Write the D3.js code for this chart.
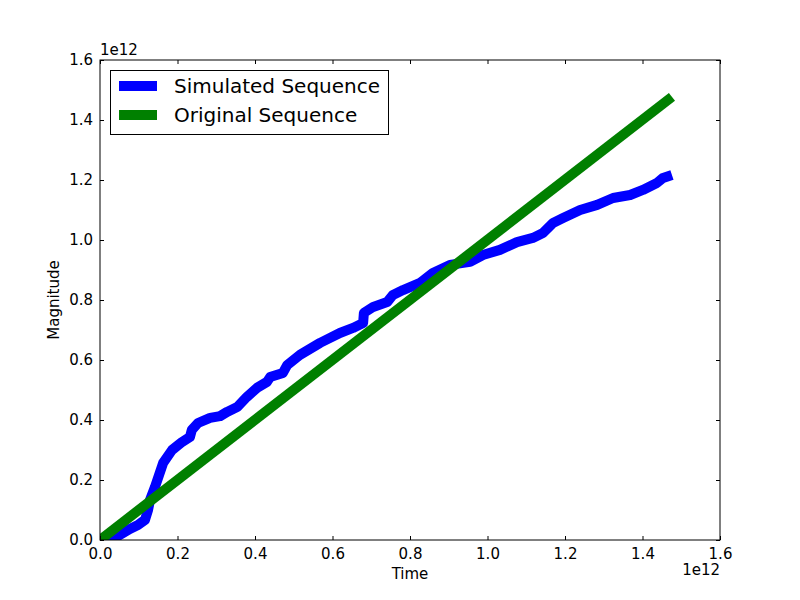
<!DOCTYPE html>
<html>
<head>
<meta charset="utf-8">
<script src="https://cdn.jsdelivr.net/npm/d3@7.9.0/dist/d3.min.js"></script>
<style>
  body { margin: 0; background: #fff; }
  svg { font-family: "DejaVu Sans", sans-serif; }
</style>
</head>
<body>
<svg id="chart" width="800" height="600"></svg>
<script>
// values in units of 1e12
const simX = [0.021, 0.046, 0.077, 0.098, 0.116, 0.124, 0.129, 0.142, 0.163, 0.186, 0.212, 0.232, 0.237, 0.253,
  0.284, 0.31, 0.328, 0.354, 0.379, 0.405, 0.431, 0.439, 0.472, 0.483, 0.516, 0.568, 0.619, 0.653, 0.679,
  0.681, 0.705, 0.741, 0.756, 0.782, 0.826, 0.859, 0.903, 0.955, 0.988, 1.032, 1.076, 1.117, 1.143, 1.169,
  1.195, 1.239, 1.283, 1.324, 1.368, 1.401, 1.437, 1.453, 1.476];
const simY = [0.0, 0.013, 0.037, 0.05, 0.067, 0.10, 0.133, 0.177, 0.257, 0.30, 0.327, 0.343, 0.367, 0.39,
  0.407, 0.413, 0.427, 0.443, 0.477, 0.507, 0.527, 0.543, 0.557, 0.583, 0.617, 0.657, 0.69, 0.707, 0.723,
  0.757, 0.777, 0.793, 0.817, 0.833, 0.857, 0.89, 0.917, 0.927, 0.95, 0.967, 0.993, 1.007, 1.023, 1.057,
  1.073, 1.1, 1.117, 1.14, 1.15, 1.167, 1.19, 1.207, 1.217];
const origX = [0.0, 1.476];
const origY = [0.0, 1.477];
const xTicks = [0.0, 0.2, 0.4, 0.6, 0.8, 1.0, 1.2, 1.4, 1.6];
const yTicks = [0.0, 0.2, 0.4, 0.6, 0.8, 1.0, 1.2, 1.4, 1.6];
const seriesNames = ['Simulated Sequence', 'Original Sequence'];
const seriesColors = ['#0000ff', '#008000'];

const pLeft = 100, pRight = 720, pTop = 60, pBottom = 540;
const fontSize = 15;
const svg = d3.select('#chart');

const x = d3.scaleLinear().domain([0, 1.6]).range([pLeft, pRight]);
const y = d3.scaleLinear().domain([0, 1.6]).range([pBottom, pTop]);

// clip for plot area
svg.append('defs').append('clipPath').attr('id', 'clip')
  .append('rect').attr('x', pLeft).attr('y', pTop).attr('width', pRight - pLeft).attr('height', pBottom - pTop);

const line = d3.line().x(d => x(d[0])).y(d => y(d[1]));
const sim = simX.map((v, i) => [v, simY[i]]);
const orig = origX.map((v, i) => [v, origY[i]]);

const plot = svg.append('g').attr('clip-path', 'url(#clip)');
[sim, orig].forEach((data, i) => {
  plot.append('path')
    .datum(data)
    .attr('d', line)
    .attr('fill', 'none')
    .attr('stroke', seriesColors[i])
    .attr('stroke-width', 10)
    .attr('stroke-linejoin', 'round')
    .attr('stroke-linecap', 'butt');
});

// axes: ticks inward, on all four sides
const fmt = d3.format('.1f');
const bottomAxis = d3.axisBottom(x).tickValues(xTicks).tickFormat(fmt).tickSizeInner(-4).tickSizeOuter(0).tickPadding(8);
const leftAxis = d3.axisLeft(y).tickValues(yTicks).tickFormat(fmt).tickSizeInner(-4).tickSizeOuter(0).tickPadding(7);
const topAxis = d3.axisTop(x).tickValues(xTicks).tickFormat('').tickSizeInner(-4).tickSizeOuter(0);
const rightAxis = d3.axisRight(y).tickValues(yTicks).tickFormat('').tickSizeInner(-4).tickSizeOuter(0);

function styleAxis(g) {
  g.select('.domain').remove();
  g.selectAll('line').attr('stroke', '#000');
  g.selectAll('text').attr('font-size', fontSize).attr('fill', '#000').attr('font-family', 'DejaVu Sans');
}
svg.append('g').attr('transform', `translate(0,${pBottom})`).call(bottomAxis).call(styleAxis);
svg.append('g').attr('transform', `translate(${pLeft},0)`).call(leftAxis).call(styleAxis);
svg.append('g').attr('transform', `translate(0,${pTop})`).call(topAxis).call(styleAxis);
svg.append('g').attr('transform', `translate(${pRight},0)`).call(rightAxis).call(styleAxis);

svg.append('rect')
  .attr('x', pLeft).attr('y', pTop).attr('width', pRight - pLeft).attr('height', pBottom - pTop)
  .attr('fill', 'none').attr('stroke', '#000').attr('stroke-width', 1);

// offset texts
svg.append('text').attr('x', pLeft).attr('y', 55).attr('font-size', fontSize).text('1e12');
svg.append('text').attr('x', pRight).attr('y', 575).attr('text-anchor', 'end').attr('font-size', fontSize).text('1e12');

// axis labels
svg.append('text').attr('x', (pLeft + pRight) / 2).attr('y', 579).attr('text-anchor', 'middle')
  .attr('font-size', fontSize).text('Time');
svg.append('text').attr('transform', `translate(59,${(pTop + pBottom) / 2}) rotate(-90)`)
  .attr('text-anchor', 'middle').attr('font-size', fontSize).text('Magnitude');

// legend
const legend = svg.append('g');
legend.append('rect').attr('x', 110.5).attr('y', 70.5).attr('width', 278).attr('height', 64)
  .attr('fill', '#fff').attr('stroke', '#000').attr('stroke-width', 1);
seriesNames.forEach((name, i) => {
  const cy = 86 + i * 29;
  legend.append('line').attr('x1', 119).attr('x2', 157).attr('y1', cy).attr('y2', cy)
    .attr('stroke', seriesColors[i]).attr('stroke-width', 10);
  legend.append('text').attr('x', 174).attr('y', cy + 7).attr('font-size', 20).text(name);
});
</script>
</body>
</html>
